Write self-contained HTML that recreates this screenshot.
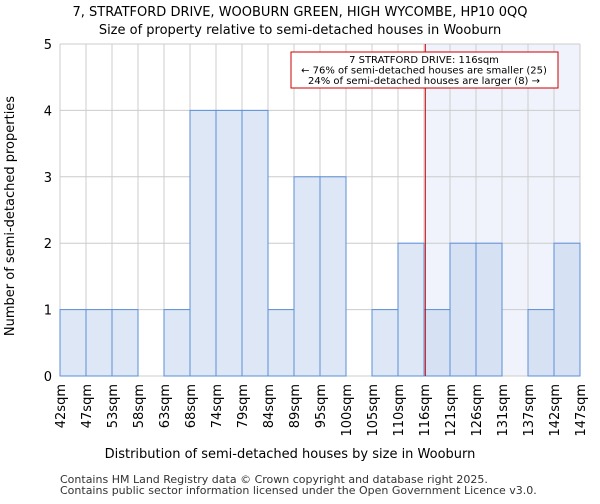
<!DOCTYPE html>
<html><head><meta charset="utf-8"><style>
body{margin:0;background:#fff;font-family:"DejaVu Sans","Liberation Sans",sans-serif;}
</style></head><body>
<svg width="600" height="500" xmlns="http://www.w3.org/2000/svg" font-family="DejaVu Sans, Liberation Sans, sans-serif">
<text x="300" y="16" text-anchor="middle" font-size="13">7, STRATFORD DRIVE, WOOBURN GREEN, HIGH WYCOMBE, HP10 0QQ</text>
<text x="300" y="34" text-anchor="middle" font-size="13">Size of property relative to semi-detached houses in Wooburn</text>
<g id="plot"></g>
<text x="290" y="458" text-anchor="middle" font-size="13">Distribution of semi-detached houses by size in Wooburn</text>
<text transform="translate(14,216) rotate(-90)" text-anchor="middle" font-size="13">Number of semi-detached properties</text>
<text x="60" y="483" font-size="11" fill="#333">Contains HM Land Registry data © Crown copyright and database right 2025.</text>
<text x="60" y="494" font-size="11" fill="#333">Contains public sector information licensed under the Open Government Licence v3.0.</text>
</svg>
<script>
const tickLabels=["42sqm","47sqm","53sqm","58sqm","63sqm","68sqm","74sqm","79sqm","84sqm","89sqm","95sqm","100sqm","105sqm","110sqm","116sqm","121sqm","126sqm","131sqm","137sqm","142sqm","147sqm"];
const counts=[1,1,1,0,1,4,4,4,1,3,3,0,1,2,1,2,2,0,1,2];
const yTicks=[0,1,2,3,4,5];
const markerBin=14.05;
const NS="http://www.w3.org/2000/svg";
const g=document.getElementById('plot');
const X0=60,X1=580,Y0=376,Y1=44,nb=counts.length;
const xs=i=>X0+(X1-X0)*i/nb;
const ys=v=>Y0-(Y0-Y1)*v/5;
function mk(t,a){const e=document.createElementNS(NS,t);for(const k in a)e.setAttribute(k,a[k]);g.appendChild(e);return e;}
let e=mk('rect',{x:xs(markerBin),y:Y1,width:X1-xs(markerBin),height:Y0-Y1,fill:'#f0f3fc'});


for(let i=0;i<=nb;i++){e=mk('line',{x1:xs(i),x2:xs(i),y1:Y1,y2:Y0,stroke:'#ccc','stroke-width':1});

}
yTicks.forEach(v=>{e=mk('line',{x1:X0,x2:X1,y1:ys(v),y2:ys(v),stroke:'#ccc','stroke-width':1});


e=mk('text',{x:X0-8,y:ys(v)+5,'text-anchor':'end','font-size':13});e.textContent=v;

});
counts.forEach((c,i)=>{if(!c)return;e=mk('rect',{x:xs(i),y:ys(c),width:xs(1)-xs(0),height:Y0-ys(c),fill:i>=Math.floor(markerBin)?'#d6e2f4':'#dde7f5',stroke:'#5b8fd6','stroke-width':1});

});
tickLabels.forEach((t,i)=>{e=mk('text',{transform:`translate(${xs(i)+5},${Y0+8}) rotate(-90)`,'text-anchor':'end','font-size':13});e.textContent=t;

});
e=mk('line',{x1:xs(markerBin),x2:xs(markerBin),y1:Y1,y2:Y0,stroke:'#cc0000','stroke-width':1});


e=mk('rect',{x:291,y:52,width:267,height:36,fill:'#fff',stroke:'#cc0000','stroke-width':1});


["7 STRATFORD DRIVE: 116sqm","← 76% of semi-detached houses are smaller (25)","24% of semi-detached houses are larger (8) →"].forEach((t,k)=>{e=mk('text',{x:424,y:63+k*10.5,'text-anchor':'middle','font-size':10});e.textContent=t;

});
</script>
</body></html>
